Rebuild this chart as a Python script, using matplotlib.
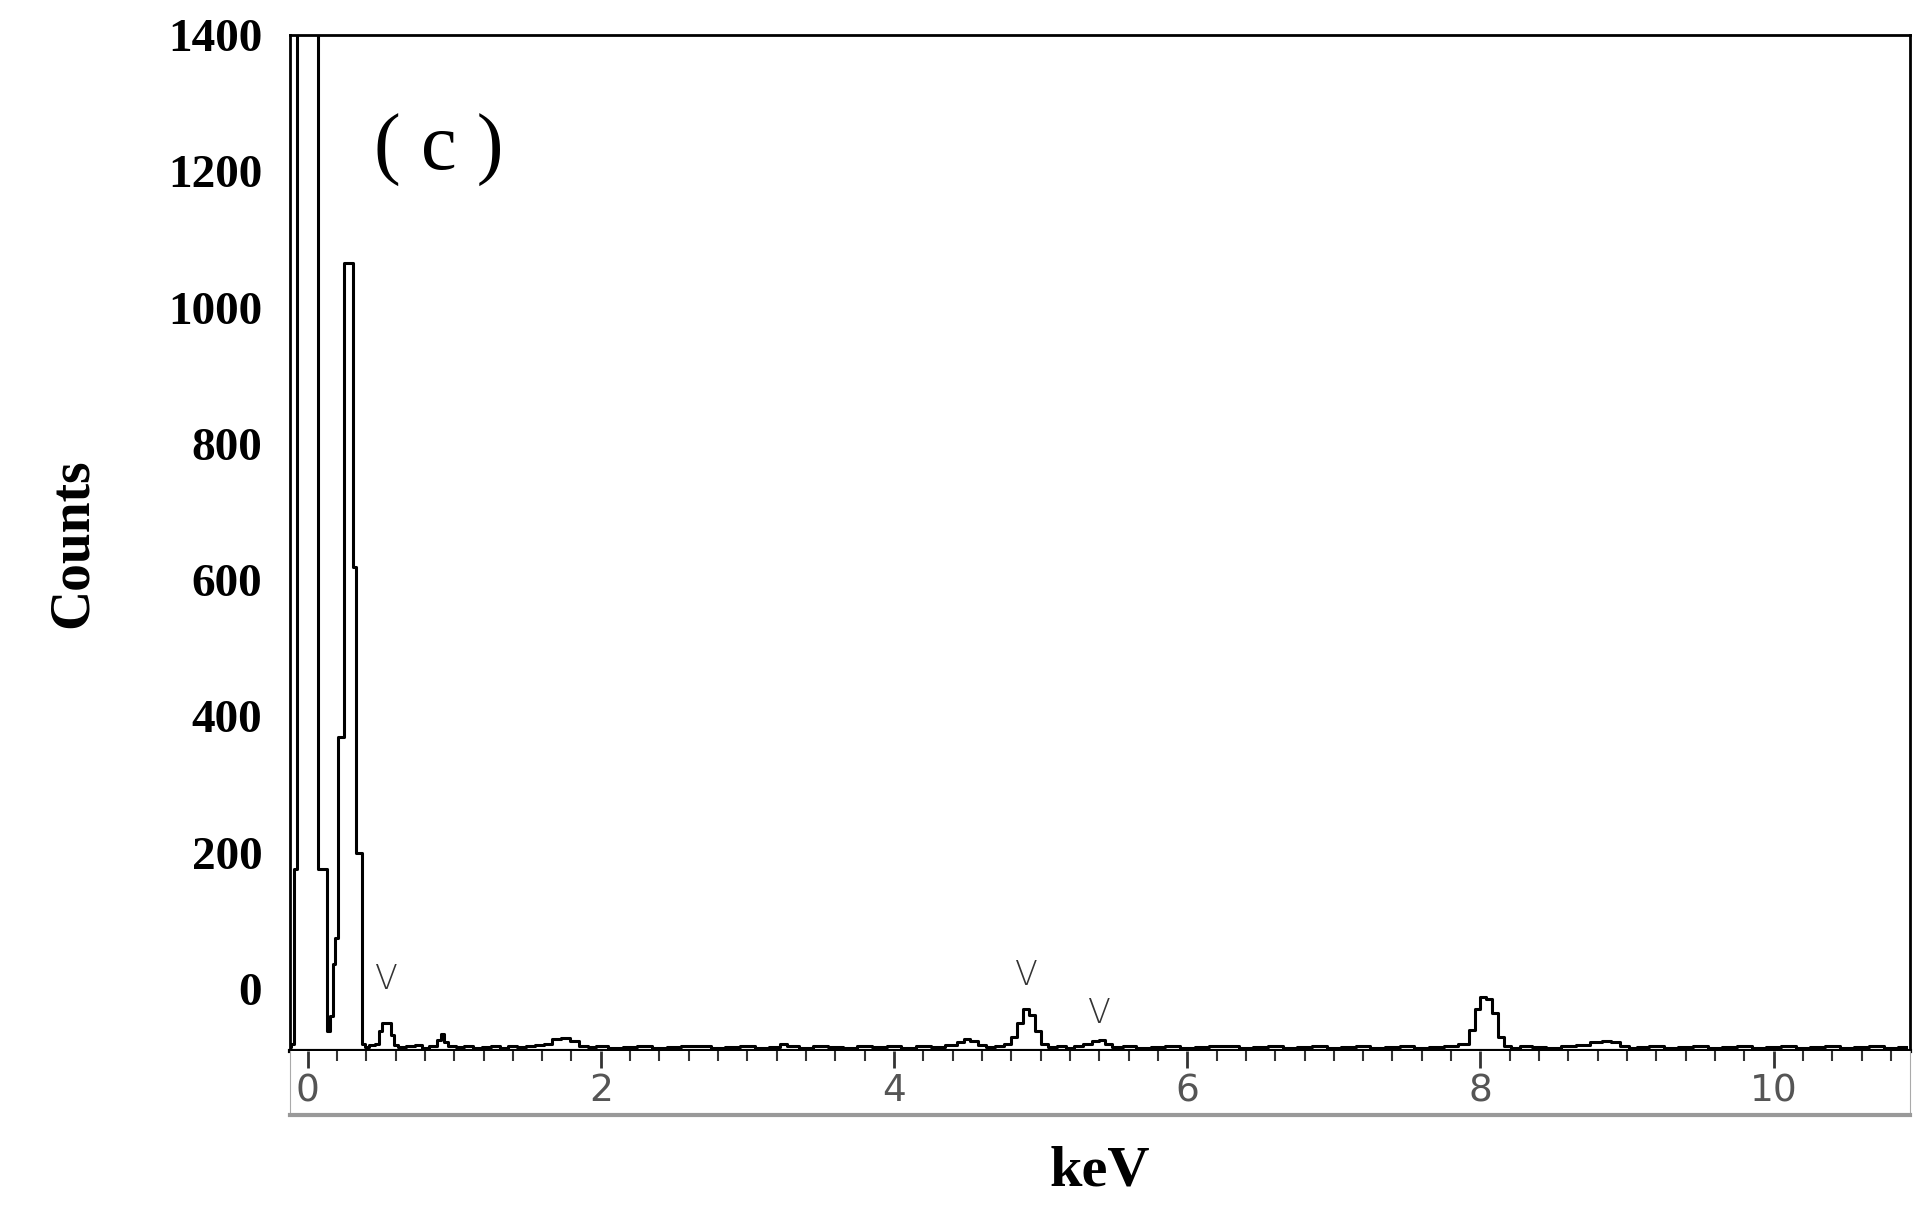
import matplotlib
matplotlib.use("Agg")
import matplotlib.pyplot as plt
import numpy as np

# (energy keV, counts)
spectrum = [
    (-0.12,-85),(-0.10,-80),(-0.08,176),(-0.06,1500),(-0.04,1500),(-0.02,1500),(0.00,1500),
    (0.02,1500),(0.04,1500),(0.06,1500),(0.08,176),(0.10,176),(0.12,176),(0.14,-62),(0.16,-40),
    (0.18,36),(0.20,75),(0.22,370),(0.24,370),(0.26,1065),(0.28,1065),(0.30,1065),(0.32,620),
    (0.34,200),(0.36,200),(0.38,-80),(0.40,-85),(0.44,-82),(0.48,-80),(0.50,-62),(0.52,-50),
    (0.56,-50),(0.58,-68),(0.60,-82),(0.64,-85),(0.70,-84),(0.76,-82),(0.80,-86),(0.86,-84),
    (0.90,-75),(0.92,-66),(0.94,-78),(0.98,-84),(1.04,-85),(1.10,-83),(1.16,-86),(1.22,-85),
    (1.28,-84),(1.34,-86),(1.40,-84),(1.46,-85),(1.52,-83),(1.58,-82),(1.64,-80),(1.70,-74),
    (1.76,-72),(1.82,-76),(1.88,-83),(1.94,-85),(2.00,-84),(2.10,-86),(2.20,-85),(2.30,-84),
    (2.40,-86),(2.50,-85),(2.60,-84),(2.70,-83),(2.80,-86),(2.90,-85),(3.00,-84),(3.10,-86),
    (3.20,-85),(3.24,-80),(3.30,-84),(3.40,-86),(3.50,-84),(3.60,-85),(3.70,-86),(3.80,-84),
    (3.90,-85),(4.00,-83),(4.10,-86),(4.20,-84),(4.30,-85),(4.40,-82),(4.46,-78),(4.50,-73),
    (4.54,-76),(4.60,-82),(4.66,-85),(4.72,-84),(4.78,-80),(4.82,-70),(4.86,-50),(4.90,-30),
    (4.94,-38),(4.98,-62),(5.02,-80),(5.08,-85),(5.14,-84),(5.20,-86),(5.26,-84),(5.32,-80),
    (5.38,-76),(5.42,-75),(5.46,-80),(5.52,-85),(5.60,-84),(5.70,-86),(5.80,-85),(5.90,-84),
    (6.00,-86),(6.10,-85),(6.20,-84),(6.30,-83),(6.40,-86),(6.50,-85),(6.60,-84),(6.70,-86),
    (6.80,-85),(6.90,-84),(7.00,-86),(7.10,-85),(7.20,-84),(7.30,-86),(7.40,-85),(7.50,-84),
    (7.60,-86),(7.70,-85),(7.80,-84),(7.90,-80),(7.94,-60),(7.98,-30),(8.02,-12),(8.06,-14),
    (8.10,-35),(8.14,-70),(8.18,-84),(8.24,-86),(8.30,-84),(8.40,-85),(8.50,-86),(8.60,-84),
    (8.70,-82),(8.80,-78),(8.86,-76),(8.92,-78),(8.98,-84),(9.04,-86),(9.10,-85),(9.20,-84),
    (9.30,-86),(9.40,-85),(9.50,-84),(9.60,-86),(9.70,-85),(9.80,-84),(9.90,-86),(10.00,-85),
    (10.10,-84),(10.20,-86),(10.30,-85),(10.40,-84),(10.50,-86),(10.60,-85),(10.70,-84),
    (10.80,-86),(10.90,-85),
]
energy = [e for e, c in spectrum]
counts = [c for e, c in spectrum]

y_ticks = [0,200,400,600,800,1000,1200,1400]
x_ticks = [0,2,4,6,8,10]
marker_x = [0.54,4.9,5.4]
marker_y = [-10,-5,-60]

W,H = 1916,1206
fig = plt.figure(figsize=(W/100,H/100),dpi=100)
L,R = 290/W, 1910/W
ax = fig.add_axes([L,1-1051/H,R-L,(1051-35)/H])
ax2 = fig.add_axes([L,1-1115/H,R-L,(1115-1051)/H])
xlim = (-0.12,10.93)
ax.step(energy,counts,where='mid',color='black',lw=2.2)
ax.set_xlim(*xlim); ax.set_ylim(-91,1400)
ax.set_yticks(y_ticks)
ax.set_yticklabels([str(v) for v in y_ticks],fontfamily='Liberation Serif',fontweight='bold',fontsize=34)
ax.tick_params(axis='y',length=0,pad=20)
ax.set_xticks([])
for s in ax.spines.values(): s.set_linewidth(2)
ax.spines['bottom'].set_linewidth(3)
for xm,ym in zip(marker_x,marker_y):
    ax.text(xm,ym,'V',ha='center',va='bottom',fontsize=24,color='#333333',fontfamily='DejaVu Sans',fontweight='light')
ax.text(0.45,1230,'( c )',fontsize=58,fontfamily='Liberation Serif',va='center')
ax.set_ylabel('Counts',fontfamily='Liberation Serif',fontweight='bold',fontsize=40,labelpad=50)

ax2.set_xlim(*xlim); ax2.set_ylim(0,1)
ax2.set_yticks([])
ax2.set_xticks(x_ticks)
ax2.set_xticks(np.arange(0,11,0.2),minor=True)
ax2.tick_params(axis='x',which='both',top=True,bottom=False,labelbottom=True,direction='in',pad=-30,labelsize=27,labelcolor='#555555',color='#333333')
ax2.tick_params(axis='x',which='major',length=12,width=2)
ax2.tick_params(axis='x',which='minor',length=7,width=1.5)
for s in ['left','right']: ax2.spines[s].set_color('#aaaaaa')
ax2.spines['bottom'].set_color('#999999'); ax2.spines['bottom'].set_linewidth(3)
ax2.spines['top'].set_visible(False)
ax2.set_xlabel('keV',fontfamily='Liberation Serif',fontweight='bold',fontsize=42,labelpad=22)
fig.savefig('out.png',dpi=100)
